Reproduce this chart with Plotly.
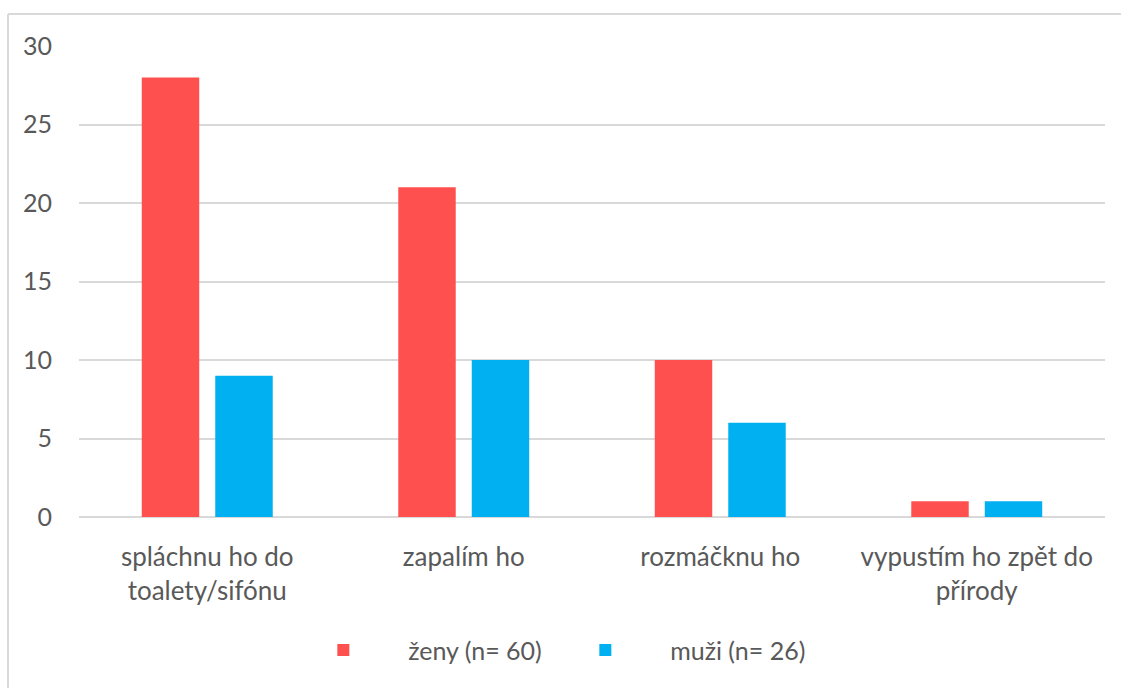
import plotly.graph_objects as go

categories = [
    "spláchnu ho do<br>toalety/sifónu",
    "zapalím ho",
    "rozmáčknu ho",
    "vypustím ho zpět do<br>přírody",
]
zeny = [28, 21, 10, 1]
muzi = [9, 10, 6, 1]
series_names = ["ženy (n= 60)", "muži (n= 26)"]
y_ticks = [0, 5, 10, 15, 20, 25, 30]

FONT = "Lato"
TEXT = "#595959"
PAD = "\u00a0" * 7  # room between legend swatch and label

fig = go.Figure()
fig.add_trace(go.Bar(x=categories, y=zeny, name=PAD + series_names[0],
                     marker=dict(color="#FF5050", line=dict(width=0))))
fig.add_trace(go.Bar(x=categories, y=muzi, name=PAD + series_names[1],
                     marker=dict(color="#00B0F0", line=dict(width=0))))

# sheet frame around the chart
frame = dict(color="#d9d9d9", width=2)
fig.add_shape(type="line", xref="paper", yref="paper",
              x0=-0.0692, x1=-0.0692, y0=1.068, y1=-0.37, line=frame)
fig.add_shape(type="line", xref="paper", yref="paper",
              x0=-0.0692, x1=1.02, y0=1.068, y1=1.068, line=frame)

fig.update_layout(
    width=1121, height=688,
    margin=dict(l=79, r=16, t=46, b=171),
    paper_bgcolor="white", plot_bgcolor="white",
    barmode="group", bargap=0.427, bargroupgap=0.218,
    font=dict(family=FONT, size=25, color=TEXT),
    showlegend=True,
    legend=dict(orientation="h", x=0.4935, xanchor="center", y=-0.234, yanchor="top",
                font=dict(family=FONT, size=25, color=TEXT),
                entrywidth=217, tracegroupgap=0),
    xaxis=dict(showgrid=False, showline=False, ticks="",
               ticklabelstandoff=22, tickfont=dict(size=26, color=TEXT)),
    yaxis=dict(range=[0, 30], tickvals=y_ticks, showgrid=True,
               gridcolor="#d9d9d9", gridwidth=1.5, zeroline=True,
               zerolinecolor="#d9d9d9", zerolinewidth=1.5, showline=False,
               ticks="", ticklabelstandoff=26, tickfont=dict(size=25, color=TEXT)),
)

fig.write_html("out.html")
